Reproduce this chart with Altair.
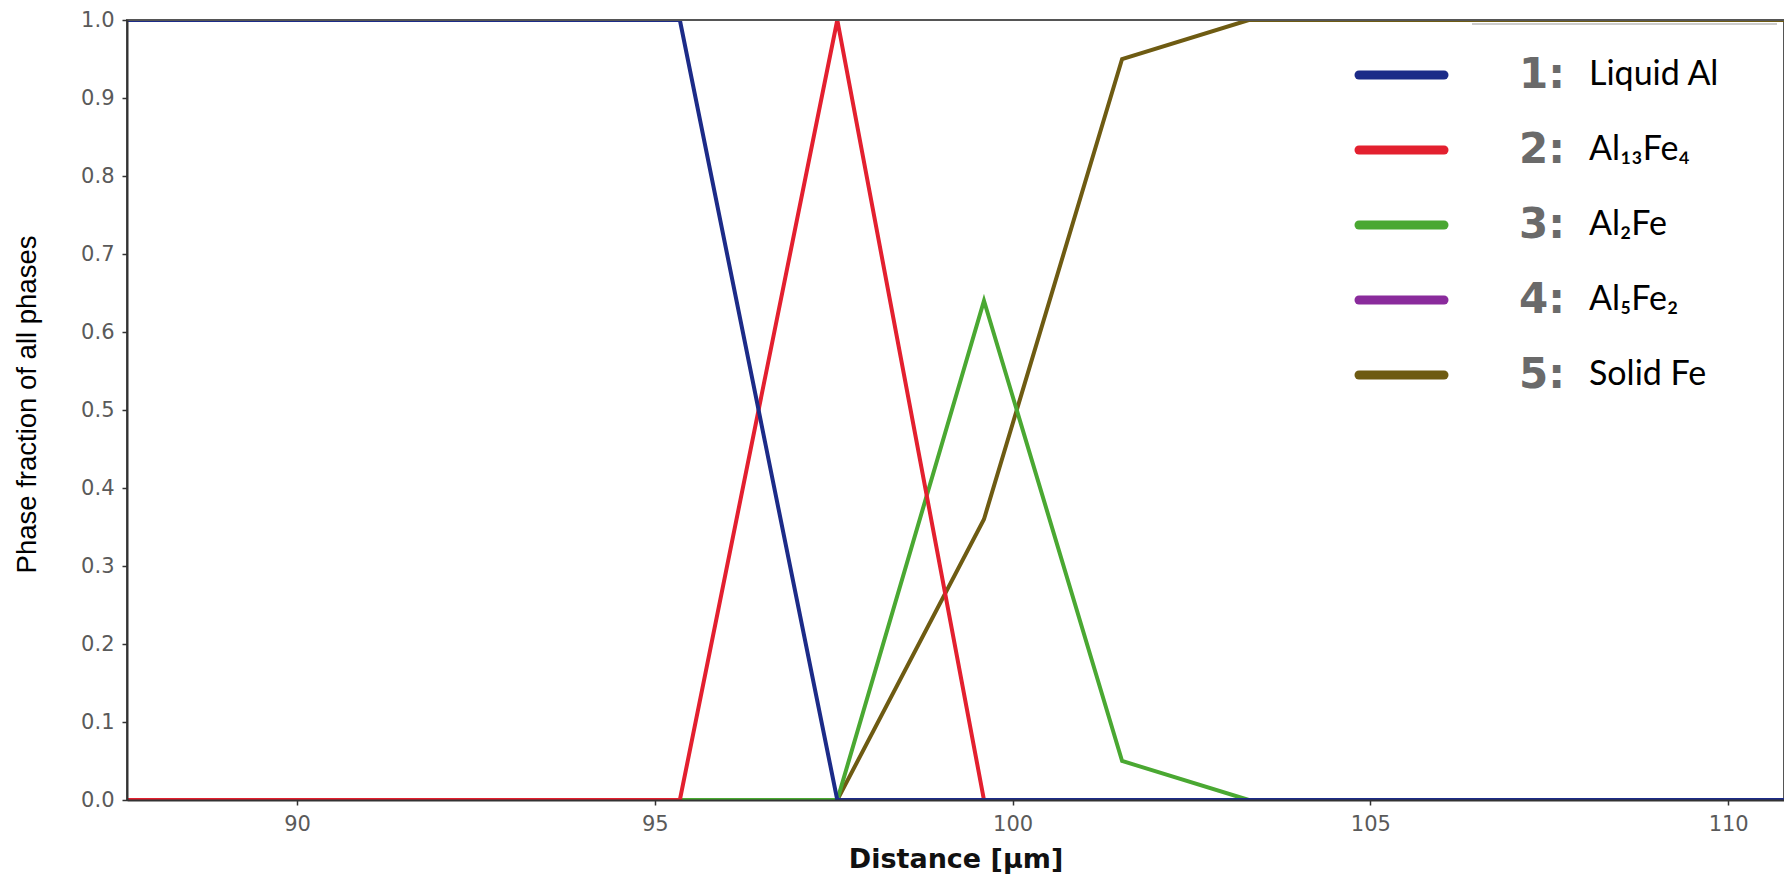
import altair as alt
import pandas as pd

# ---- data ----
phases = ["Liquid Al", "Al₁₃Fe₄", "Al₂Fe", "Al₅Fe₂", "Solid Fe"]
numbers = ["1:", "2:", "3:", "4:", "5:"]
colors = ["#1c2b88", "#e3202f", "#4aa832", "#8a2b9c", "#6e5b12"]

liquid_x = [87.0, 95.35, 97.55, 111.0]
liquid_y = [1.0, 1.0, 0.0, 0.0]
al13fe4_x = [87.0, 95.35, 97.55, 99.6, 111.0]
al13fe4_y = [0.0, 0.0, 1.0, 0.0, 0.0]
al2fe_x = [87.0, 97.55, 99.6, 101.53, 103.3, 111.0]
al2fe_y = [0.0, 0.0, 0.64, 0.05, 0.0, 0.0]
al5fe2_x = [87.0, 111.0]
al5fe2_y = [0.0, 0.0]
solidfe_x = [87.0, 97.55, 99.6, 101.53, 103.3, 111.0]
solidfe_y = [0.0, 0.0, 0.36, 0.95, 1.0, 1.0]

x_ticks = [90, 95, 100, 105, 110]
y_ticks = [0.0, 0.1, 0.2, 0.3, 0.4, 0.5, 0.6, 0.7, 0.8, 0.9, 1.0]
x_domain = [87.624, 110.78]

series_x = [liquid_x, al13fe4_x, al2fe_x, al5fe2_x, solidfe_x]
series_y = [liquid_y, al13fe4_y, al2fe_y, al5fe2_y, solidfe_y]

W, H = 1657, 780

x_enc = alt.X(
    "x:Q",
    scale=alt.Scale(domain=x_domain, nice=False, zero=False),
    axis=alt.Axis(
        values=x_ticks, format="d", grid=False,
        labelFont="DejaVu Sans", labelFontSize=21, labelColor="#5a5a5a",
        labelPadding=8, tickSize=5, tickColor="#333", tickWidth=1.5,
        domainColor="#333", domainWidth=2, zindex=1,
        title="Distance [µm]", titleFont="DejaVu Sans", titleFontSize=27,
        titleFontWeight="bold", titleColor="#111", titleY=67,
        titleBaseline="alphabetic",
    ),
)
y_enc = alt.Y(
    "y:Q",
    scale=alt.Scale(domain=[0, 1], nice=False, zero=False),
    axis=alt.Axis(
        values=y_ticks, format=".1f", grid=False,
        labelFont="DejaVu Sans", labelFontSize=21, labelColor="#5a5a5a",
        labelPadding=8, tickSize=5, tickColor="#333", tickWidth=1.5,
        domainColor="#333", domainWidth=2, zindex=1,
        title="Phase fraction of all phases", titleFont="Liberation Sans",
        titleFontSize=27.5, titleFontWeight="normal", titleColor="#000",
        titleAngle=270, titleX=-92, titleY=384, titleAlign="center",
        titleBaseline="alphabetic",
    ),
)

layers = []
# draw Solid Fe first, Liquid Al last (on top)
for i in reversed(range(len(phases))):
    df = pd.DataFrame({"x": series_x[i], "y": series_y[i], "phase": phases[i]})
    layers.append(
        alt.Chart(df).mark_line(clip=True, strokeWidth=4, color=colors[i]).encode(
            x=x_enc, y=y_enc
        )
    )

# top border drawn above the lines
top_border = alt.Chart(pd.DataFrame({"a": [0]})).mark_rule(
    color="#555", strokeWidth=2
).encode(x=alt.value(0), x2=alt.value(W), y=alt.value(0))

legend_df = pd.DataFrame({
    "idx": list(range(len(phases))),
    "num": numbers,
    "name": phases,
    "color": colors,
})
leg_base = alt.Chart(legend_df).transform_calculate(ypix="55 + 75 * datum.idx")

leg_lines = leg_base.mark_rule(strokeWidth=9, strokeCap="round").encode(
    x=alt.value(1232), x2=alt.value(1317),
    y=alt.Y("ypix:Q", scale=None, axis=None),
    color=alt.Color("color:N", scale=None, legend=None),
)
leg_nums = leg_base.mark_text(
    align="left", baseline="middle", font="DejaVu Sans", fontSize=42,
    fontWeight="bold", color="#6a6a6a"
).encode(x=alt.value(1392), y=alt.Y("ypix:Q", scale=None, axis=None), text="num:N")
leg_names = leg_base.mark_text(
    align="left", baseline="middle", font="Lato", fontSize=34, color="#000"
).encode(x=alt.value(1462), y=alt.Y("ypix:Q", scale=None, axis=None), text="name:N")

leg_top = alt.Chart(pd.DataFrame({"a": [0]})).mark_rule(
    color="#bbbbbb", strokeWidth=1.5
).encode(x=alt.value(1345), x2=alt.value(1650), y=alt.value(4))

chart = alt.layer(*layers, top_border, leg_top, leg_lines, leg_nums, leg_names).properties(
    width=W, height=H,
    autosize=alt.AutoSizeParams(type="none"),
    padding={"left": 119, "top": 12, "right": 0, "bottom": 74},
    background="white",
).configure_view(stroke="#555", strokeWidth=2)

chart.save("out.html", embed_options={"renderer": "svg", "actions": False})
